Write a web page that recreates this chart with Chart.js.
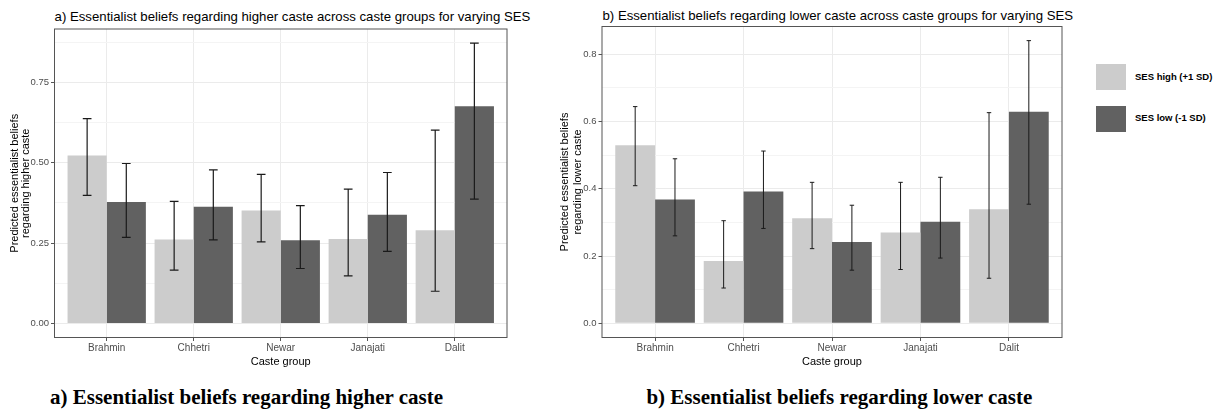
<!DOCTYPE html>
<html>
<head>
<meta charset="utf-8">
<script src="https://cdn.jsdelivr.net/npm/chart.js@4.4.0/dist/chart.umd.min.js"></script>
<style>
  body { margin: 0; background: #fff; width: 1225px; height: 411px; position: relative; overflow: hidden; font-family: "Liberation Sans", Arial, sans-serif }
  canvas { position: absolute; top: 0 }
  .titulo { position: absolute; font-size: 13.2px; line-height: 1; white-space: nowrap; color: #000 }
  .pie { position: absolute; font-family: "Liberation Serif", "Times New Roman", serif; font-weight: bold; font-size: 21px; line-height: 1; white-space: nowrap; color: #000 }
  .leyenda { position: absolute; left: 1135px; font-weight: bold; font-size: 9.5px; line-height: 1; white-space: nowrap; color: #000 }
  .cuadro { position: absolute; left: 1096px; width: 30px; height: 26px }
</style>
</head>
<body>
<div class="titulo" style="left:54.6px;top:10.2px">a) Essentialist beliefs regarding higher caste across caste groups for varying SES</div>
<div class="titulo" style="left:602.5px;top:8.5px">b) Essentialist beliefs regarding lower caste across caste groups for varying SES</div>
<canvas id="graficoA" width="520" height="375" style="left:0"></canvas>
<canvas id="graficoB" width="527" height="375" style="left:545px"></canvas>
<div class="cuadro" id="cuadroAlto" style="top:64px"></div>
<div class="leyenda" style="top:72px">SES high (+1 SD)</div>
<div class="cuadro" id="cuadroBajo" style="top:106px"></div>
<div class="leyenda" style="top:112.5px">SES low (-1 SD)</div>
<div class="pie" style="left:50px;top:387.3px">a) Essentialist beliefs regarding higher caste</div>
<div class="pie" style="left:646.4px;top:387.3px">b) Essentialist beliefs regarding lower caste</div>
<script>
// Datos

const categorias = ['Brahmin', 'Chhetri', 'Newar', 'Janajati', 'Dalit']
const series = ['SES high (+1 SD)', 'SES low (-1 SD)']

// a) higher caste
const altoA = [0.523, 0.261, 0.352, 0.263, 0.290]
const altoAInf = [0.399, 0.166, 0.254, 0.148, 0.100]
const altoASup = [0.638, 0.380, 0.464, 0.418, 0.602]
const bajoA = [0.378, 0.363, 0.259, 0.338, 0.676]
const bajoAInf = [0.268, 0.260, 0.171, 0.224, 0.387]
const bajoASup = [0.498, 0.478, 0.367, 0.470, 0.873]

// b) lower caste
const altoB = [0.529, 0.185, 0.312, 0.270, 0.339]
const altoBInf = [0.409, 0.105, 0.222, 0.160, 0.134]
const altoBSup = [0.644, 0.305, 0.419, 0.419, 0.626]
const bajoB = [0.368, 0.392, 0.242, 0.302, 0.629]
const bajoBInf = [0.260, 0.282, 0.158, 0.194, 0.354]
const bajoBSup = [0.489, 0.512, 0.351, 0.434, 0.840]

// Ticks del eje Y
const ticksA = [0, 0.25, 0.5, 0.75]
const etiquetasA = ['0.00', '0.25', '0.50', '0.75']
const menoresA = [0.125, 0.375, 0.625, 0.875]
const ticksB = [0, 0.2, 0.4, 0.6, 0.8]
const etiquetasB = ['0.0', '0.2', '0.4', '0.6', '0.8']
const menoresB = [0.1, 0.3, 0.5, 0.7]

const colorAlto = '#CCCCCC' // gris claro
const colorBajo = '#616161' // gris oscuro

document.getElementById('cuadroAlto').style.background = colorAlto
document.getElementById('cuadroBajo').style.background = colorBajo

Chart.defaults.font.family = '"Liberation Sans", Arial, sans-serif'

// Plugin: barras de error y borde del panel
const barrasError = {
  id: 'barrasError',
  afterDatasetsDraw(chart, args, opts) {
    const ctx = chart.ctx
    const x = chart.scales.x
    const y = chart.scales.y
    const mitad = opts.cap * (x.getPixelForValue(2) - x.getPixelForValue(1)) / 2 // medio ancho del tope

    ctx.save()
    ctx.strokeStyle = '#1a1a1a'
    ctx.lineWidth = opts.grosor
    chart.data.datasets.forEach((ds, d) => {
      chart.getDatasetMeta(d).data.forEach((barra, i) => {
        const yInf = y.getPixelForValue(ds.inf[i])
        const ySup = y.getPixelForValue(ds.sup[i])
        ctx.beginPath()
        ctx.moveTo(barra.x, yInf); ctx.lineTo(barra.x, ySup)
        ctx.moveTo(barra.x - mitad, yInf); ctx.lineTo(barra.x + mitad, yInf)
        ctx.moveTo(barra.x - mitad, ySup); ctx.lineTo(barra.x + mitad, ySup)
        ctx.stroke()
      })
    })

    const a = chart.chartArea // borde del panel
    ctx.strokeStyle = '#555555'
    ctx.lineWidth = 1
    ctx.strokeRect(a.left, a.top, a.right - a.left, a.bottom - a.top)
    ctx.restore()
  }
}

function Grafico(id, p)
{
  const todos = p.ticks.concat(p.menores).sort((m, n) => m - n)
  const puntos = (vals) => vals.map((v, i) => ({ x: i + 1, y: v }))

  return new Chart(document.getElementById(id), {
    type: 'bar',
    data: {
      datasets: [
        { label: series[0], data: puntos(p.alto), inf: p.altoInf, sup: p.altoSup, backgroundColor: colorAlto, categoryPercentage: 0.9, barPercentage: 1 },
        { label: series[1], data: puntos(p.bajo), inf: p.bajoInf, sup: p.bajoSup, backgroundColor: colorBajo, categoryPercentage: 0.9, barPercentage: 1 }
      ]
    },
    options: {
      responsive: false,
      animation: false,
      events: [],
      layout: { padding: { top: p.arriba, right: p.derecha, left: 0, bottom: 0 } },
      plugins: {
        legend: { display: false },
        tooltip: { enabled: false },
        barrasError: { cap: p.cap, grosor: p.grosor }
      },
      scales: {
        x: {
          type: 'linear',
          min: 0.4,
          max: 5.6,
          offset: false,
          afterBuildTicks: (s) => { s.ticks = categorias.map((c, i) => ({ value: i + 1 })) },
          afterFit: (s) => { s.height = 37.5 },
          ticks: { callback: (v) => categorias[v - 1], color: '#4D4D4D', font: { size: 10 }, padding: 1, maxRotation: 0, autoSkip: false },
          grid: { color: '#EBEBEB', tickColor: '#555555', tickLength: 3.5, offset: false },
          border: { display: false },
          title: { display: true, text: 'Caste group', color: '#000', font: { size: 11 }, padding: { top: 0, bottom: 6 } }
        },
        y: {
          min: p.min,
          max: p.max,
          afterBuildTicks: (s) => { s.ticks = todos.map((v) => ({ value: v })) },
          afterFit: (s) => { s.width = p.anchoY },
          ticks: {
            callback: (v) => { const k = p.ticks.indexOf(v); return k >= 0 ? p.etiquetas[k] : '' },
            color: '#4D4D4D', font: { size: 9.5 }, padding: 2
          },
          grid: {
            color: (c) => p.ticks.includes(c.tick.value) ? '#EBEBEB' : '#F4F4F4',
            tickColor: (c) => p.ticks.includes(c.tick.value) ? '#555555' : 'rgba(0,0,0,0)',
            tickLength: 3.5
          },
          border: { display: false },
          title: { display: true, text: p.tituloY, color: '#000', font: { size: 11, lineHeight: p.interlinea }, padding: { top: p.margenTitulo, bottom: 0 } }
        }
      }
    },
    plugins: [barrasError]
  })
}

Grafico('graficoA', {
  alto: altoA, altoInf: altoAInf, altoSup: altoASup,
  bajo: bajoA, bajoInf: bajoAInf, bajoSup: bajoASup,
  ticks: ticksA, etiquetas: etiquetasA, menores: menoresA,
  min: -0.044, max: 0.917,
  arriba: 29, derecha: 13, anchoY: 54.5,
  cap: 0.1, grosor: 1.2,
  tituloY: ['Predicted essentialist beliefs', 'regarding higher caste'], interlinea: 1.0, margenTitulo: 9.7
})

Grafico('graficoB', {
  alto: altoB, altoInf: altoBInf, altoSup: altoBSup,
  bajo: bajoB, bajoInf: bajoBInf, bajoSup: bajoBSup,
  ticks: ticksB, etiquetas: etiquetasB, menores: menoresB,
  min: -0.042, max: 0.882,
  arriba: 26.5, derecha: 10, anchoY: 57,
  cap: 0.05, grosor: 1,
  tituloY: ['Predicted essentialist beliefs', 'regarding lower caste'], interlinea: 1.2, margenTitulo: 12.9
})
</script>
</body>
</html>
